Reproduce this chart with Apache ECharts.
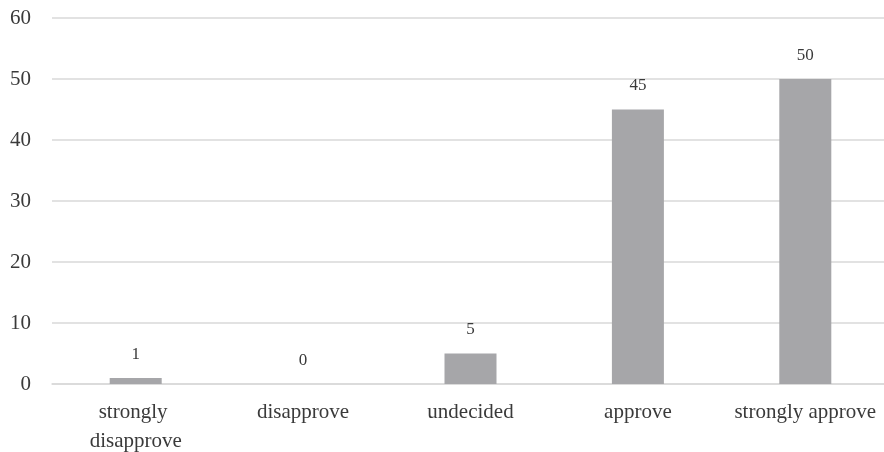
<!DOCTYPE html>
<html>
<head>
<meta charset="utf-8">
<script src="https://cdn.jsdelivr.net/npm/echarts@6/dist/echarts.min.js"></script>
<style>
  html, body { margin: 0; padding: 0; background: #fff; }
  #chart { width: 884px; height: 452px; }
</style>
</head>
<body>
<div id="chart"></div>
<script>
// Survey responses per answer option
const categories = ['strongly disapprove', 'disapprove', 'undecided', 'approve', 'strongly approve'];
const responses = [1, 0, 5, 45, 50];
const yTicks = { min: 0, max: 60, interval: 10 };

const serif = '"Liberation Serif", "DejaVu Serif", serif';
const textColor = '#3a3a3a';

const chart = echarts.init(document.getElementById('chart'), null, { renderer: 'canvas' });
chart.setOption({
  animation: false,
  grid: {
    left: 52, right: -5, top: 18, bottom: 68,
    containLabel: false,
    outerBoundsMode: 'none'
  },
  xAxis: {
    type: 'category',
    data: categories,
    axisTick: { show: false },
    axisLine: { lineStyle: { color: '#d9d9d9', width: 1.5 } },
    axisLabel: {
      color: textColor,
      fontFamily: serif,
      fontSize: 21,
      lineHeight: 29,
      margin: 14,
      width: 150,
      overflow: 'break',
      interval: 0
    }
  },
  yAxis: {
    type: 'value',
    min: yTicks.min,
    max: yTicks.max,
    interval: yTicks.interval,
    axisLine: { show: false },
    axisTick: { show: false },
    splitLine: { lineStyle: { color: '#d9d9d9', width: 1.5 } },
    axisLabel: {
      color: textColor,
      fontFamily: serif,
      fontSize: 21,
      margin: 21
    }
  },
  series: [{
    type: 'bar',
    data: responses,
    barWidth: 52,
    itemStyle: { color: '#a6a6a9' },
    label: {
      show: true,
      position: 'top',
      distance: 15,
      color: textColor,
      fontFamily: serif,
      fontSize: 17
    }
  }]
});
</script>
</body>
</html>
